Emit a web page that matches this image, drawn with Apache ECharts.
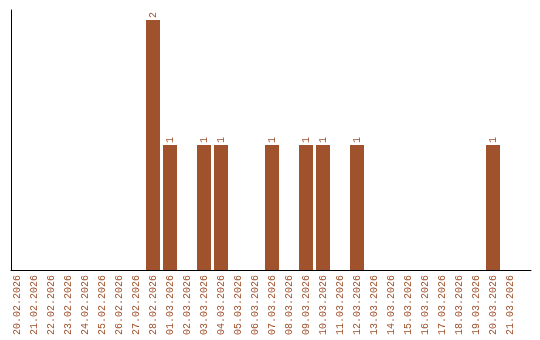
<!DOCTYPE html>
<html><head><meta charset="utf-8">
<script src="https://cdn.jsdelivr.net/npm/echarts@6/dist/echarts.min.js"></script>
<style>html,body{margin:0;padding:0;background:#fff}#c{width:540px;height:340px}</style>
</head><body><div id="c"></div>
<script>
const categories = ["20.02.2026","21.02.2026","22.02.2026","23.02.2026","24.02.2026","25.02.2026","26.02.2026","27.02.2026","28.02.2026","01.03.2026","02.03.2026","03.03.2026","04.03.2026","05.03.2026","06.03.2026","07.03.2026","08.03.2026","09.03.2026","10.03.2026","11.03.2026","12.03.2026","13.03.2026","14.03.2026","15.03.2026","16.03.2026","17.03.2026","18.03.2026","19.03.2026","20.03.2026","21.03.2026"];
const counts = [0,0,0,0,0,0,0,0,2,1,0,1,1,0,0,1,0,1,1,0,1,0,0,0,0,0,0,0,1,0];

const color = '#A0522D';
const chart = echarts.init(document.getElementById('c'), null, {renderer:'canvas'});
chart.setOption({
  animation:false,
  grid:[
    {left:8.5, width:510, top:10, bottom:70},
    {left:11, right:9, top:10, bottom:70}
  ],
  xAxis:[
    {type:'category', data:categories, gridIndex:0, axisLine:{show:false}, axisTick:{show:false},
     axisLabel:{rotate:90, interval:0, color:color, fontFamily:'Liberation Mono', fontSize:10, margin:5}},
    {type:'value', gridIndex:1, min:0, max:1, axisLine:{show:true, lineStyle:{color:'#000', width:1}}, axisTick:{show:false}, axisLabel:{show:false}, splitLine:{show:false}}
  ],
  yAxis:[
    {type:'value', gridIndex:0, min:0, max:2.08, axisLine:{show:false}, axisTick:{show:false}, axisLabel:{show:false}, splitLine:{show:false}},
    {type:'value', gridIndex:1, min:0, max:1, axisLine:{show:true, lineStyle:{color:'#000', width:1}}, axisTick:{show:false}, axisLabel:{show:false}, splitLine:{show:false}}
  ],
  series:[{
    type:'bar', xAxisIndex:0, yAxisIndex:0, data:counts, barWidth:14,
    itemStyle:{color:color},
    label:{show:true, position:'top', rotate:90, distance:2, align:'left', verticalAlign:'middle', color:color, fontFamily:'Liberation Mono', fontSize:10,
      formatter:p=>p.value>0?String(p.value):''}
  }]
});
</script></body></html>
